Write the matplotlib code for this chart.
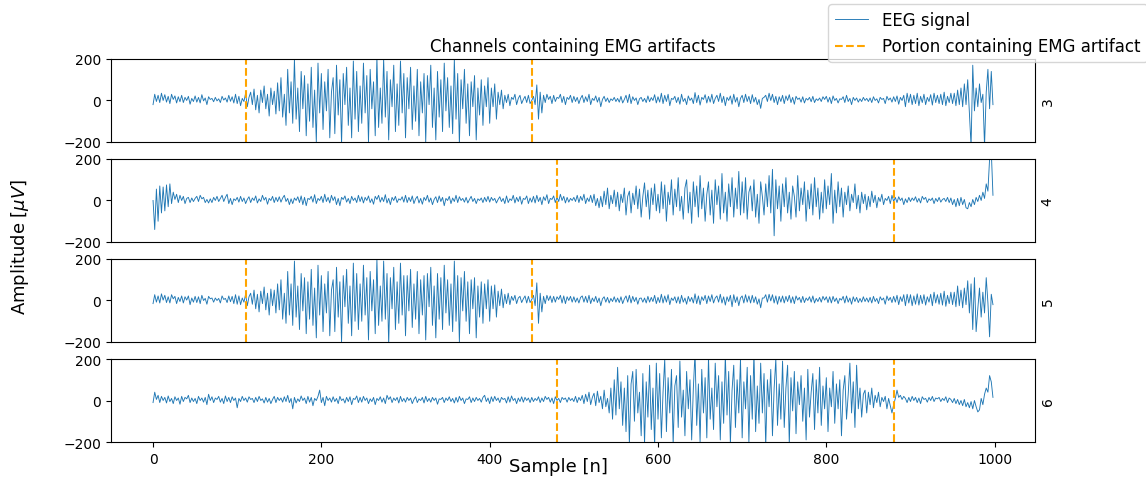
"""
Stacked EEG traces for the channels that carry EMG artifacts, with the
artifact span of each channel marked by dashed orange lines.
"""

import numpy as np
import matplotlib
matplotlib.use("Agg")
import matplotlib.pyplot as plt


# ---- Recorded traces (µV), one value every 2 samples -----------------------
SAMPLE_STEP = 2

ch3 = [
    -20, 30, -5, 25, -10, 35, 0, 28, -8, 20, -15, 30, 5, 22, -12, 18, -6, 25, -10, 15, 0, 20, -18, 10, -5,
    22, -8, 15, -12, 28, -2, 12, -20, 18, 5, 10, -6, 15, -2, 8, -10, 20, 2, 12, -8, 25, -4, 18, -12, 30,
    -15, 20, -25, 10, -5, 35, -30, 15, 40, -20, 55, -45, 25, -60, 50, -10, 70, -40, 30, -75, 60, -20, 45, -65, 85,
    -50, 110, -80, 30, -120, 150, -60, 90, -110, 200, -90, 60, -150, 140, -40, 120, -170, 80, -100, 160, -130, 50, -200, 180, -60,
    130, -140, 90, -50, 150, -180, 40, 110, -160, 170, -70, 100, -210, 130, -20, 160, -120, 60, -180, 190, -90, 140, -150, 70, -110,
    180, -60, 120, -200, 150, -40, 90, -170, 210, -130, 60, -110, 200, -80, 140, -190, 100, -30, 170, -150, 80, -120, 190, -60, 130,
    -180, 110, -40, 160, -140, 70, -100, 150, -170, 90, -60, 130, -200, 120, -20, 170, -130, 60, -190, 140, -80, 100, -150, 180, -50,
    110, -130, 70, -160, 200, -90, 130, -210, 100, -40, 150, -110, 80, -170, 90, -30, 120, -190, 60, -70, 100, -120, 70, -30, 110,
    -110, 60, -30, 80, -90, 40, -20, 50, -40, 25, -10, 30, -25, 15, 5, 30, -20, 10, 25, -15, 5, 20, -10, 25, -15,
    0, 20, -20, 75, -90, 40, -60, 25, -10, 30, 5, 20, -15, 25, -5, 15, 10, 30, -10, 20, -20, 15, 5, 25, -10,
    20, -5, 15, -15, 10, 25, -10, 18, -5, 30, -20, 10, 0, 22, -8, 15, -30, 5, 20, -5, 12, -10, 8, 0, 15,
    -5, 10, -8, 20, -12, 5, 25, -10, 30, -15, 18, 0, 12, -20, 8, 15, -5, 10, -10, 22, -6, 14, 0, 28, -12,
    18, -8, 35, -15, 25, -5, 30, -25, 10, 5, 20, -10, 15, -18, 30, -5, 10, -20, 22, 0, 12, -15, 38, -10, 25,
    -22, 15, 5, 28, -12, 20, -8, 30, -15, 10, 25, -5, 35, -10, 20, -25, 15, 0, 22, -18, 30, -8, 15, -30, 10,
    25, -10, 30, -5, 20, -15, 28, -8, 15, -20, 5, -38, 10, 15, 25, -5, 35, 0, 30, -10, 20, -20, 18, -5, 25,
    -15, 22, 0, 28, -10, 15, -18, 20, 5, 12, -8, 18, -12, 10, 2, 15, -6, 20, -10, 8, 0, 12, -5, 18, 5,
    20, -8, 15, -15, 22, 0, 10, -12, 8, 5, 18, -10, 25, -5, 10, -20, 15, 0, 12, -8, 8, -5, 15, 0, 10,
    -5, 12, -10, 18, 0, 8, -12, 15, 5, 10, -15, 20, 2, 12, -8, 18, -5, 22, -18, 15, 0, 25, -30, 35, -10,
    30, -20, 25, -15, 35, -25, 20, -10, 30, -20, 15, -5, 28, -22, 35, -10, 25, -15, 30, -20, 40, -25, 20, -10, 35,
    -15, 35, -25, 50, -20, 60, -30, 80, -20, 100, -60, -220, 170, -50, 60, -30, 80, -10, 30, -220, 40, 150, -40, 140, -20,
]

ch4 = [
    0, -140, 55, -100, 70, -60, 65, -50, 75, -30, 80, -15, 40, 5, 30, -10, 25, 0, 20, -15, 10, 15, -10, 12, -5,
    10, 20, -5, 25, 8, 15, -10, 5, -12, 8, -10, 15, 0, 20, -5, 10, 25, -5, 15, 30, -15, 10, -20, 8, 0,
    15, -8, 20, -5, 12, -15, 5, 18, -10, 12, 0, 22, -12, 8, -5, 25, 2, 15, -18, 10, 0, 20, -10, 15, -5,
    18, -8, 12, 25, -5, 10, -20, 8, -15, 12, 0, 18, -10, 22, -20, 15, -25, 10, 5, 20, -8, 28, -15, 10, 0,
    20, -10, 30, -5, 15, -12, 25, 0, 18, -20, 10, -25, 15, 5, 22, -8, 10, -15, 20, 0, 12, -10, 25, -5, 18,
    -12, 15, 0, 22, -10, 8, -18, 20, 5, 25, -8, 15, -5, 28, -12, 10, -20, 15, 0, 20, -10, 8, 2, 18, -8,
    25, -10, 15, -5, 22, -15, 8, 20, -12, 10, -18, 15, 0, 25, -8, 12, -20, 5, 18, -10, 22, -5, 15, -25, 10,
    0, 20, -15, 12, -5, 25, -10, 18, 0, 10, -8, 15, -12, 5, 20, -5, 10, -15, 8, 0, 12, -10, 15, -5, 20,
    -8, 15, 0, 10, -12, 5, 18, -5, 10, -15, 22, -10, 8, 0, 25, -12, 15, -5, 20, -18, 10, 5, 22, -15, 12,
    -8, 20, -12, 25, -5, 15, -20, 18, 0, 28, -15, 10, 5, 22, -10, 15, -5, 30, 0, 20, -12, 15, -8, 10, 0,
    15, -5, 25, -10, 20, 0, 30, -15, 12, -5, 25, -10, 30, -25, 10, -35, 20, -30, 45, -20, 60, -40, 25, -15, 50,
    -30, 40, -50, 30, -10, 60, -70, 20, 45, -60, 35, -20, 70, -40, 55, -80, 20, 85, -30, 50, -90, 60, -20, 80, -50,
    30, -60, 90, -40, 75, -100, 40, -20, 100, -70, 55, -30, 110, -50, 20, -90, 60, 100, -60, 40, -110, 90, -30, 70, -80,
    120, -40, 60, -100, 30, 90, -70, 50, -110, 100, -20, 70, -90, 130, -60, 40, -100, 80, -30, 110, -80, 60, -40, 140, -70,
    90, -60, 110, -90, 40, 70, -50, 100, -80, 30, -110, 90, 20, -70, 80, -30, 120, -60, 150, -170, 100, -40, 70, -100, 80,
    -30, 110, -60, 40, -90, 70, 20, -80, 120, -50, 60, -20, 90, -100, 50, -40, 80, -70, 110, -30, 60, -90, 40, -60, 100,
    -40, 70, -20, 130, -110, 50, -60, 90, -30, 60, -80, 40, -20, 70, -50, 30, -10, 80, -40, 25, -60, 40, -15, 30, -45,
    20, -30, 45, -10, 25, -35, 15, -5, 30, -20, 10, 0, 20, -15, 25, -5, 15, -10, 18, 0, 12, -20, 8, -10, 15,
    -5, 12, 0, 18, -8, 10, -12, 20, 5, 15, -10, 8, 0, 12, -15, 10, -5, 15, -8, 5, 10, -5, 15, -10, 12,
    -20, 5, -30, 10, -25, 15, -20, 5, -35, -40, -10, -30, 5, -20, 15, -5, 25, 0, 40, 10, 80, 45, 200, 240, 25,
]

ch5 = [
    -15, 28, -8, 22, -12, 32, 2, 25, -10, 18, -12, 28, 8, 20, -15, 15, -5, 22, -12, 18, 2, 22, -20, 12, -8,
    20, -10, 18, -15, 25, 0, 10, -18, 20, 8, 12, -8, 12, 0, 10, -12, 22, 5, 10, -10, 22, -6, 20, -15, 28,
    -18, 22, -20, 12, -8, 30, -25, 18, 35, -18, 50, -40, 30, -55, 45, -15, 65, -45, 35, -70, 55, -25, 50, -60, 80,
    -45, 100, -90, 35, -110, 140, -70, 80, -120, 190, -80, 70, -140, 130, -50, 110, -160, 90, -90, 150, -120, 60, -180, 170, -70,
    120, -150, 80, -60, 140, -170, 50, 100, -150, 160, -80, 90, -200, 120, -30, 150, -110, 70, -170, 180, -100, 130, -140, 80, -100,
    170, -70, 110, -190, 140, -50, 100, -160, 200, -120, 70, -100, 190, -90, 130, -210, 110, -40, 160, -140, 90, -110, 180, -70, 120,
    -170, 120, -50, 150, -130, 80, -90, 140, -160, 100, -70, 120, -190, 130, -30, 160, -120, 70, -180, 130, -90, 110, -140, 170, -60,
    100, -120, 80, -150, 190, -100, 120, -200, 110, -50, 140, -100, 90, -160, 100, -40, 110, -180, 70, -80, 90, -110, 80, -40, 100,
    -100, 70, -40, 75, -80, 45, -25, 55, -35, 30, -15, 35, -20, 20, 0, 25, -15, 12, 20, -10, 8, 22, -12, 20, -10,
    5, 25, -25, 85, -110, 35, -55, 20, -15, 25, 0, 22, -10, 20, -8, 18, 5, 25, -12, 22, -15, 18, 0, 20, -8,
    18, -8, 12, -12, 15, 22, -8, 20, -10, 25, -15, 12, -5, 20, -10, 12, -25, 8, 18, -8, 15, -12, 10, -5, 18,
    -8, 12, -10, 18, -15, 8, 22, -8, 25, -12, 20, -5, 15, -18, 10, 12, -8, 12, -12, 20, -8, 15, -5, 25, -15,
    15, -10, 30, -12, 22, -8, 28, -20, 12, 0, 18, -12, 18, -15, 25, -8, 12, -18, 20, -5, 15, -12, 32, -15, 22,
    -20, 18, 0, 25, -15, 22, -5, 28, -12, 12, 22, -8, 30, -12, 18, -22, 18, -5, 25, -30, 28, -10, 18, -25, 12,
    22, -12, 28, -8, 22, -12, 25, -10, 18, -18, 8, -35, 12, 12, 28, -8, 30, -2, 28, -12, 22, -18, 20, -8, 22,
    -12, 20, -5, 25, -12, 18, -15, 22, 2, 15, -10, 20, -10, 12, 0, 18, -8, 22, -12, 10, -5, 15, -8, 20, 2,
    18, -10, 18, -12, 20, -5, 12, -15, 10, 2, 20, -12, 22, -8, 12, -18, 18, -5, 15, -10, 10, -8, 18, -5, 12,
    -8, 15, -12, 20, -5, 10, -15, 18, 2, 12, -18, 22, 0, 15, -10, 20, -8, 25, -20, 18, -5, 28, -25, 30, -12,
    28, -25, 22, -18, 32, -22, 25, -15, 28, -22, 18, -8, 30, -25, 40, -12, 28, -18, 35, -22, 45, -28, 25, -15, 40,
    -20, 40, -30, 70, -25, 50, -35, 60, -20, 95, -60, 80, -140, 110, -150, -40, 60, -80, 40, -60, 110, -10, -175, 30, -20,
]

ch6 = [
    -10, 40, 5, 25, -10, 20, 0, 15, -12, 22, -5, 10, -15, 18, 0, 12, -18, 20, -5, 15, 8, 25, -10, 12, -5,
    10, -15, 20, 0, 12, -8, 15, -20, 30, 0, 18, -10, 12, 5, 20, -8, 10, -15, 22, -5, 15, -10, 18, 0, 12,
    -35, 10, -5, 20, 0, 12, -8, 18, 5, 10, -10, 15, -5, 20, 0, 8, -12, 15, -8, 10, -15, 5, 20, -10, 15,
    0, 12, -8, 18, -5, 25, -10, 10, -40, 15, -12, 8, -5, 22, 0, 12, -15, 20, -8, 15, -25, 10, 0, 20, 50,
    -10, 15, -25, 20, 0, 12, -8, 18, -5, 10, -15, 20, 0, 8, -12, 15, -5, 18, -20, 10, 5, 22, -10, 15, -8,
    20, 0, 12, -15, 8, -5, 15, -20, 10, 0, 18, -8, 12, -15, 25, 5, 18, -10, 12, 0, 15, -12, 20, -5, 10,
    -8, 15, 0, 12, -15, 5, 18, -10, 8, 0, 15, -12, 20, -5, 10, -8, 15, 0, 12, -18, 8, 5, 15, -10, 12,
    0, 18, -5, 10, -12, 15, -8, 20, 0, 12, -15, 8, 5, 18, -10, 12, -5, 15, 0, 10, -8, 15, 25, -5, 12,
    -15, 18, -5, 20, 0, 12, -10, 15, 5, 10, -12, 18, -8, 22, 0, 10, -15, 12, -5, 18, -8, 15, 0, 12, -10,
    15, -5, 10, 0, 18, -10, 12, -5, 20, 5, 15, -8, 12, -15, 18, 0, 10, -10, 15, 5, 12, -8, 15, 0, 10,
    -5, 20, -10, 15, 0, 25, -15, 30, -5, 40, -20, 15, 35, -25, 45, -10, 20, -40, 50, -30, 10, -60, 60, -90, 100,
    -70, 160, -40, 90, -120, 60, -150, 120, -210, 80, 140, -100, 150, -60, 40, -170, 130, -210, 90, -80, 170, -140, 60, -220, 180,
    -90, 130, -180, 40, 200, -150, 110, -60, 150, -210, 70, 120, -130, 190, -80, 50, -170, 140, -40, 100, -190, 60, 230, -120, 80,
    -200, 150, -60, 110, -180, 210, -90, 60, -140, 180, -30, 120, -190, 90, -110, 220, -70, 140, -210, 50, 170, -130, 100, -60, 200,
    -180, 90, -40, 160, -200, 120, -90, 230, -150, 70, -110, 180, -60, 130, -220, 100, -30, 150, -170, 60, 200, -120, 80, -90, 190,
    -130, 60, 170, -210, 110, -50, 140, -160, 90, -20, 120, -100, 60, -190, 150, -80, 40, 130, -140, 100, -60, 160, -120, 70, -40,
    110, -150, 60, -30, 140, -110, 80, -40, 100, -170, 50, 120, -90, 30, 180, -60, 90, -130, 170, -40, 60, -80, 30, 50, -60,
    40, -20, 60, -35, 25, -10, 40, -30, 15, -5, 20, -40, 10, -25, -60, -20, 10, 50, 15, 25, 5, 20, 10, -10, 15,
    -5, 20, 0, 15, -10, 12, -15, 18, 5, 10, -8, 15, 0, 20, -5, 12, 8, 15, -5, 10, 0, 18, -10, 12, 5,
    -10, 10, -15, 5, -20, 0, -25, 5, -30, -10, -35, -5, -40, 0, -30, -55, -45, 10, -20, 30, 60, 40, 120, 90, 15,
]

channel_names = ["3", "4", "5", "6"]
channel_traces = [ch3, ch4, ch5, ch6]

# start / end sample of the EMG-contaminated portion of each channel
artifact_bounds = [(110, 450), (480, 880), (110, 450), (480, 880)]

SIGNAL_COLOR = "#1f77b4"
ARTIFACT_COLOR = "orange"


def main() -> None:
    fig, axes = plt.subplots(
        len(channel_traces), 1, sharex=True, figsize=(11.46, 4.81), dpi=100
    )
    fig.subplots_adjust(left=0.0969, right=0.9031, top=0.8753, bottom=0.079,
                        hspace=0.205)

    for ax, name, trace, (start, end) in zip(
        axes, channel_names, channel_traces, artifact_bounds
    ):
        values = np.asarray(trace, dtype=float)
        assert len(values) == 500, (name, len(values))
        samples = np.arange(len(values)) * SAMPLE_STEP

        ax.plot(samples, values, color=SIGNAL_COLOR, linewidth=0.65,
                label="EEG signal")
        ax.axvline(start, color=ARTIFACT_COLOR, linestyle="--", linewidth=1.5,
                   label="Portion containing EMG artifact")
        ax.axvline(end, color=ARTIFACT_COLOR, linestyle="--", linewidth=1.5)

        ax.set_ylim(-200, 200)
        ax.set_yticks([-200, 0, 200])
        ax.yaxis.set_label_position("right")
        ax.set_ylabel(name, fontsize=10)

    for ax in axes[:-1]:
        ax.tick_params(axis="x", bottom=False)
    axes[-1].set_xticks([0, 200, 400, 600, 800, 1000])

    axes[0].set_title("Channels containing EMG artifacts", fontsize=12)
    fig.supxlabel("Sample [n]", fontsize=13, x=0.487)
    fig.supylabel(r"Amplitude [$\mu V$]", fontsize=13, x=0.008, y=0.4875)

    handles, labels = axes[0].get_legend_handles_labels()
    fig.legend(handles, labels, loc="upper right", fontsize=12,
               bbox_to_anchor=(1.008, 1.006))

    fig.savefig("out.png", dpi=100)


if __name__ == "__main__":
    main()
